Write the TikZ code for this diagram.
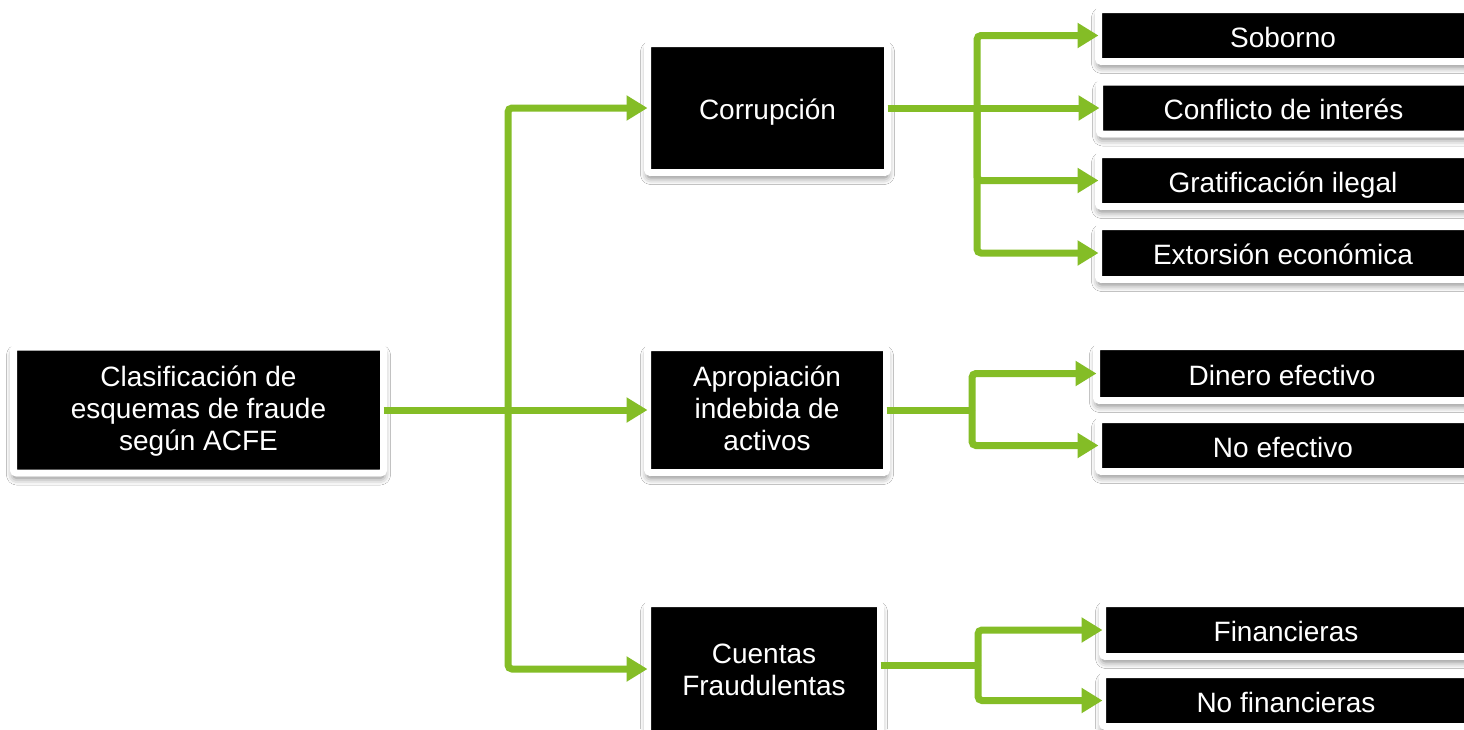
\documentclass[tikz,border=0pt]{standalone}
\usepackage{fontspec}
\setmainfont{Liberation Sans}
\usetikzlibrary{arrows.meta,shadows.blur}
\definecolor{accgreen}{RGB}{132,189,38}
\tikzset{
  box/.style={fill=black, draw=white, line width=7pt, rounded corners=3pt,
    outer sep=0pt, inner sep=0pt,
    blur shadow={shadow xshift=0pt, shadow yshift=-5pt, shadow blur radius=7pt, shadow opacity=55}},
  lbl/.style={text=white, align=center, inner sep=0pt, yshift=-2.5pt,
    font=\fontsize{28}{32}\selectfont,
    execute at begin node={\rule{0pt}{26pt}},
    execute at end node={\rule[-8pt]{0pt}{0pt}}},
  link/.style={draw=accgreen, line width=7pt},
  arr/.style={link, -{Triangle[length=21pt,width=24pt]}},
  elbow/.style={arr, rounded corners=4pt},
}
\begin{document}
\begin{tikzpicture}[x=1pt,y=-1pt]
\useasboundingbox (0,0) rectangle (1464,729);
\clip (0,0) rectangle (1464,729);
\fill[white] (0,0) rectangle (1464,729);
% level 0
\node[box, minimum width=370pt, minimum height=126pt, label={[lbl]center:Clasificación de\\esquemas de fraude\\según ACFE}] (root) at (198.5,410) {};
% level 1
\node[box, minimum width=240pt, minimum height=129pt, label={[lbl]center:Corrupción}] (corr) at (767.5,108) {};
\node[box, minimum width=239pt, minimum height=125pt, label={[lbl]center:Apropiación\\indebida de\\activos}] (apro) at (767,410) {};
\node[box, minimum width=233pt, minimum height=135pt, label={[lbl]center:Cuentas\\Fraudulentas}] (cuen) at (764,671) {};
% level 2
\node[box, minimum width=369pt, minimum height=52pt, label={[lbl]center:Soborno}] (sob) at (1283,35.5) {};
\node[box, minimum width=368pt, minimum height=52pt, label={[lbl]center:Conflicto de interés}] (conf) at (1283.5,108) {};
\node[box, minimum width=369pt, minimum height=52pt, label={[lbl]center:Gratificación ilegal}] (grat) at (1283,180.5) {};
\node[box, minimum width=369pt, minimum height=53pt, label={[lbl]center:Extorsión económica}] (ext) at (1283,253) {};
\node[box, minimum width=371pt, minimum height=54pt, label={[lbl]center:Dinero efectivo}] (din) at (1282,373.5) {};
\node[box, minimum width=369pt, minimum height=52pt, label={[lbl]center:No efectivo}] (noef) at (1283,445.5) {};
\node[box, minimum width=367pt, minimum height=53pt, label={[lbl]center:Financieras}] (fin) at (1286,630) {};
\node[box, minimum width=367pt, minimum height=52pt, label={[lbl]center:No financieras}] (nofin) at (1286,700.5) {};
% junctions
\coordinate (t) at (508,410);
\coordinate (tc) at (508,669);
\coordinate (bc) at (977,108);
\coordinate (ba) at (972,410);
\coordinate (bf) at (978,665);
% trunk
\draw[arr] (root.east) -- (apro.west);
\draw[elbow] (t) |- (corr.west);
\draw[elbow] (t) -- (tc) -- (cuen.west |- tc);
% corrupcion
\draw[arr] (corr.east) -- (conf.west);
\draw[elbow] (bc) |- (sob.west);
\draw[elbow] (bc) |- (grat.west);
\draw[elbow] (bc) |- (ext.west);
% apropiacion
\draw[link] (apro.east) -- (ba);
\draw[elbow] (ba) |- (din.west);
\draw[elbow] (ba) |- (noef.west);
% cuentas
\draw[link] (cuen.east |- bf) -- (bf);
\draw[elbow] (bf) |- (fin.west);
\draw[elbow] (bf) |- (nofin.west);
\end{tikzpicture}
\end{document}
